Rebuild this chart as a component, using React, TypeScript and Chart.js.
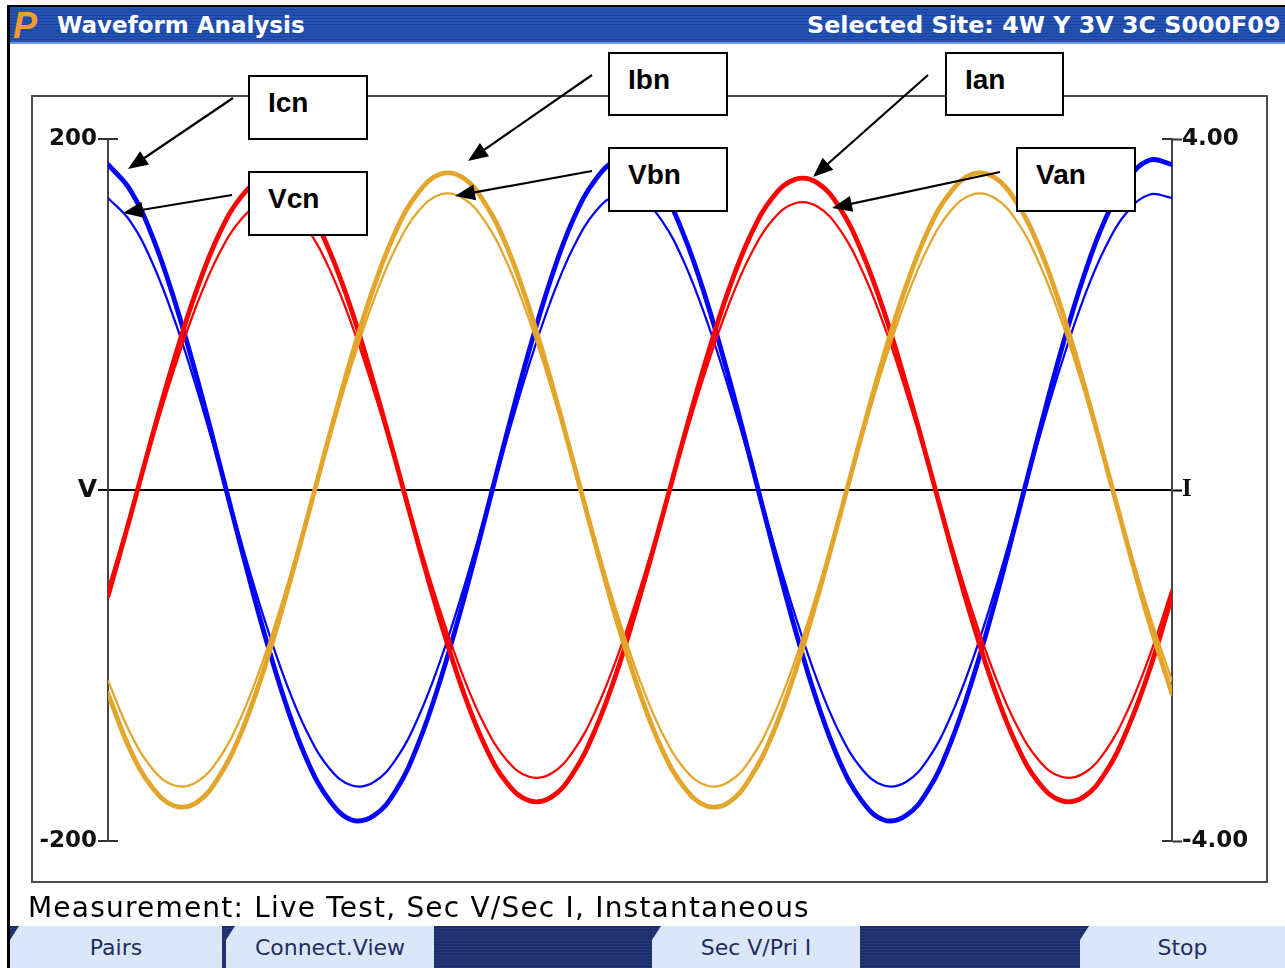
import React, { useEffect, useRef } from "react";
import { Chart, registerables } from "chart.js";

Chart.register(...registerables);

// ---- data (phase angle in degrees across two cycles) ----
const angleDeg = [
  0, 15, 30, 45, 60, 75, 90, 105, 120, 135, 150, 165, 180, 195, 210, 225, 240, 255, 270, 285, 300, 315, 330, 345,
  360, 375, 390, 405, 420, 435, 450, 465, 480, 495, 510, 525, 540, 555, 570, 585, 600, 615, 630, 645, 660, 675, 690, 705,
  720,
];

// Phase A (red)
const vanVolts = [
  -56.1, -14.3, 28.5, 69.3, 105.4, 134.3, 154.1, 163.4, 161.5, 148.6, 125.6, 94.1, 56.1, 14.3, -28.5, -69.3, -105.4, -134.3, -154.1, -163.4, -161.5, -148.6, -125.6, -94.1,
  -56.1, -14.3, 28.5, 69.3, 105.4, 134.3, 154.1, 163.4, 161.5, 148.6, 125.6, 94.1, 56.1, 14.3, -28.5, -69.3, -105.4, -134.3, -154.1, -163.4, -161.5, -148.6, -125.6, -94.1,
  -56.1,
];
const ianAmps = [
  -1.21, -0.31, 0.62, 1.5, 2.28, 2.91, 3.34, 3.54, 3.5, 3.22, 2.72, 2.04, 1.21, 0.31, -0.62, -1.5, -2.28, -2.91, -3.34, -3.54, -3.5, -3.22, -2.72, -2.04,
  -1.21, -0.31, 0.62, 1.5, 2.28, 2.91, 3.34, 3.54, 3.5, 3.22, 2.72, 2.04, 1.21, 0.31, -0.62, -1.5, -2.28, -2.91, -3.34, -3.54, -3.5, -3.22, -2.72, -2.04,
  -1.21,
];

// Phase B (gold)
const vbnVolts = [
  -108.6, -138.4, -158.8, -168.4, -166.4, -153.2, -129.5, -96.9, -57.8, -14.7, 29.3, 71.4, 108.6, 138.4, 158.8, 168.4, 166.4, 153.2, 129.5, 96.9, 57.8, 14.7, -29.3, -71.4,
  -108.6, -138.4, -158.8, -168.4, -166.4, -153.2, -129.5, -96.9, -57.8, -14.7, 29.3, 71.4, 108.6, 138.4, 158.8, 168.4, 166.4, 153.2, 129.5, 96.9, 57.8, 14.7, -29.3, -71.4,
  -108.6,
];
const ibnAmps = [
  -2.32, -2.96, -3.39, -3.6, -3.56, -3.27, -2.77, -2.07, -1.23, -0.31, 0.63, 1.53, 2.32, 2.96, 3.39, 3.6, 3.56, 3.27, 2.77, 2.07, 1.23, 0.31, -0.63, -1.53,
  -2.32, -2.96, -3.39, -3.6, -3.56, -3.27, -2.77, -2.07, -1.23, -0.31, 0.63, 1.53, 2.32, 2.96, 3.39, 3.6, 3.56, 3.27, 2.77, 2.07, 1.23, 0.31, -0.63, -1.53,
  -2.32,
];

// Phase C (blue)
const vcnVolts = [
  166.4, 153.2, 129.5, 96.9, 57.8, 14.7, -29.3, -71.4, -108.6, -138.4, -158.8, -168.4, -166.4, -153.2, -129.5, -96.9, -57.8, -14.7, 29.3, 71.4, 108.6, 138.4, 158.8, 168.4,
  166.4, 153.2, 129.5, 96.9, 57.8, 14.7, -29.3, -71.4, -108.6, -138.4, -158.8, -168.4, -166.4, -153.2, -129.5, -96.9, -57.8, -14.7, 29.3, 71.4, 108.6, 138.4, 158.8, 168.4,
  166.4,
];
const icnAmps = [
  3.71, 3.42, 2.89, 2.16, 1.29, 0.33, -0.65, -1.59, -2.42, -3.09, -3.54, -3.76, -3.71, -3.42, -2.89, -2.16, -1.29, -0.33, 0.65, 1.59, 2.42, 3.09, 3.54, 3.76,
  3.71, 3.42, 2.89, 2.16, 1.29, 0.33, -0.65, -1.59, -2.42, -3.09, -3.54, -3.76, -3.71, -3.42, -2.89, -2.16, -1.29, -0.33, 0.65, 1.59, 2.42, 3.09, 3.54, 3.76,
  3.71,
];

// axis ticks
const voltTickValues = [-200, 0, 200];
const voltTickLabels = ["-200", "V", "200"];
const ampTickValues = [-4, 0, 4];
const ampTickLabels = ["-4.00", "I", "4.00"];

// texts
const titleText = "Waveform Analysis";
const siteText = "Selected Site: 4W Y 3V 3C S000F09";
const measurementText = "Measurement: Live Test, Sec V/Sec I, Instantaneous";
const buttonLabels = ["Pairs", "Connect.View", "Sec V/Pri I", "Stop"];

// callouts
const calloutNames = ["Icn", "Vcn", "Ibn", "Vbn", "Ian", "Van"];

// colours
const RED = "#ff0000";
const GOLD = "#e3a52a";
const BLUE = "#0000ff";

// ---- layout constants ----
const FRAME = { left: 31, top: 95, width: 1237, height: 788 };
const AREA = { left: 108, right: 1172, top: 139, bottom: 841 };

const calloutBoxes = [
  { x: 248, y: 75, w: 120, h: 65 },
  { x: 248, y: 171, w: 120, h: 65 },
  { x: 608, y: 52, w: 120, h: 64 },
  { x: 608, y: 147, w: 120, h: 65 },
  { x: 945, y: 52, w: 119, h: 64 },
  { x: 1016, y: 147, w: 120, h: 65 },
];
const calloutArrows = [
  { x1: 233, y1: 98, x2: 128, y2: 169 },
  { x1: 232, y1: 195, x2: 123, y2: 213 },
  { x1: 592, y1: 75, x2: 468, y2: 161 },
  { x1: 592, y1: 171, x2: 455, y2: 196 },
  { x1: 928, y1: 75, x2: 813, y2: 177 },
  { x1: 1000, y1: 172, x2: 832, y2: 208 },
];
const buttonSpans = [
  [10, 222],
  [226, 434],
  [652, 860],
  [1080, 1285],
];

const tickFont = { family: "'DejaVu Sans', sans-serif", size: 23, weight: "bold" as const };

const innerStubs = {
  id: "innerStubs",
  afterDatasetsDraw(chart: any) {
    const ctx = chart.ctx;
    const yV = chart.scales.yV;
    const yI = chart.scales.yI;
    const a = chart.chartArea;
    ctx.save();
    ctx.strokeStyle = "#333";
    ctx.lineWidth = 2;
    ctx.beginPath();
    [-200, 200].forEach((v) => {
      const y = Math.round(yV.getPixelForValue(v));
      ctx.moveTo(a.left, y);
      ctx.lineTo(a.left + 10, y);
    });
    [-4, 4].forEach((v) => {
      const y = Math.round(yI.getPixelForValue(v));
      ctx.moveTo(a.right - 10, y);
      ctx.lineTo(a.right, y);
    });
    ctx.stroke();
    ctx.restore();
  },
};

function toPoints(values: number[]) {
  return angleDeg.map((x, i) => ({ x, y: values[i] }));
}

function WaveChart() {
  const ref = useRef<HTMLCanvasElement | null>(null);
  useEffect(() => {
    if (!ref.current) return;
    const chart = new Chart(ref.current, {
      type: "line",
      data: {
        datasets: [
          { label: "Vbn", data: toPoints(vbnVolts), yAxisID: "yV", borderColor: GOLD, borderWidth: 2.2 },
          { label: "Ibn", data: toPoints(ibnAmps), yAxisID: "yI", borderColor: GOLD, borderWidth: 4.8 },
          { label: "Van", data: toPoints(vanVolts), yAxisID: "yV", borderColor: RED, borderWidth: 2.2 },
          { label: "Ian", data: toPoints(ianAmps), yAxisID: "yI", borderColor: RED, borderWidth: 4.8 },
          { label: "Vcn", data: toPoints(vcnVolts), yAxisID: "yV", borderColor: BLUE, borderWidth: 2.2 },
          { label: "Icn", data: toPoints(icnAmps), yAxisID: "yI", borderColor: BLUE, borderWidth: 4.8 },
        ],
      },
      options: {
        responsive: false,
        animation: false,
        events: [],
        layout: {
          padding: {
            top: AREA.top - FRAME.top,
            bottom: FRAME.top + FRAME.height - AREA.bottom,
            left: 0,
            right: 0,
          },
        },
        elements: {
          point: { radius: 0 },
          line: { tension: 0.4, fill: false, borderCapStyle: "round", borderJoinStyle: "round" },
        },
        plugins: { legend: { display: false }, tooltip: { enabled: false }, title: { display: false } },
        scales: {
          x: { type: "linear", min: 0, max: 720, display: false },
          yV: {
            type: "linear",
            position: "left",
            min: -200,
            max: 200,
            afterBuildTicks: (s: any) => {
              s.ticks = voltTickValues.map((v) => ({ value: v }));
            },
            afterFit: (s: any) => {
              s.width = AREA.left - FRAME.left;
            },
            ticks: {
              color: "#111",
              padding: 1,
              callback: (v: any) => voltTickLabels[voltTickValues.indexOf(Number(v))],
              font: (c: any) =>
                c.tick && c.tick.value === 0
                  ? { family: "'DejaVu Sans', sans-serif", size: 25, weight: "bold" }
                  : tickFont,
            },
            grid: {
              drawOnChartArea: true,
              color: (c: any) => (c.tick && c.tick.value === 0 ? "#000" : "rgba(0,0,0,0)"),
              lineWidth: 2,
              tickColor: (c: any) => (c.tick && c.tick.value === 0 ? "#000" : "#333"),
              tickLength: 10,
              tickWidth: 2,
            },
            border: { display: true, color: "#444", width: 2 },
          },
          yI: {
            type: "linear",
            position: "right",
            min: -4,
            max: 4,
            afterBuildTicks: (s: any) => {
              s.ticks = ampTickValues.map((v) => ({ value: v }));
            },
            afterFit: (s: any) => {
              s.width = FRAME.left + FRAME.width - AREA.right;
            },
            ticks: {
              color: "#111",
              padding: 0,
              callback: (v: any) => ampTickLabels[ampTickValues.indexOf(Number(v))],
              font: (c: any) =>
                c.tick && c.tick.value === 0
                  ? { family: "'Liberation Serif', serif", size: 25, weight: "bold" }
                  : tickFont,
            },
            grid: {
              drawOnChartArea: false,
              tickColor: (c: any) => (c.tick && c.tick.value === 0 ? "#000" : "#333"),
              tickLength: 10,
              tickWidth: 2,
            },
            border: { display: true, color: "#444", width: 2 },
          },
        },
      },
      plugins: [innerStubs],
    } as any);
    return () => chart.destroy();
  }, []);
  return (
    <canvas
      ref={ref}
      width={FRAME.width}
      height={FRAME.height}
      style={{ position: "absolute", left: FRAME.left, top: FRAME.top, width: FRAME.width, height: FRAME.height, display: "block" }}
    />
  );
}

function Arrow({ x1, y1, x2, y2 }: { x1: number; y1: number; x2: number; y2: number }) {
  const dx = x2 - x1;
  const dy = y2 - y1;
  const len = Math.hypot(dx, dy);
  const ux = dx / len;
  const uy = dy / len;
  const hl = 20;
  const hw = 8;
  const bx = x2 - ux * hl;
  const by = y2 - uy * hl;
  const pts = `${x2},${y2} ${bx - uy * hw},${by + ux * hw} ${bx + uy * hw},${by - ux * hw}`;
  return (
    <g>
      <line x1={x1} y1={y1} x2={bx + ux * 3} y2={by + uy * 3} stroke="#000" strokeWidth={2.2} />
      <polygon points={pts} fill="#000" />
    </g>
  );
}

const stripeBlue = "repeating-linear-gradient(to bottom, #2453b3 0px, #2453b3 2px, #1a449f 2px, #1a449f 3px)";
const stripeNavy = "repeating-linear-gradient(to bottom, #1c2f6c 0px, #1c2f6c 2px, #26397a 2px, #26397a 3px)";

export default function App() {
  return (
    <div
      style={{
        position: "absolute",
        left: 0,
        top: 0,
        width: 1285,
        height: 968,
        background: "#fff",
        overflow: "hidden",
        fontFamily: "'DejaVu Sans', sans-serif",
      }}
    >
      {/* outer black edges */}
      <div style={{ position: "absolute", left: 7, top: 5, width: 1278, height: 2, background: "#000" }} />
      <div style={{ position: "absolute", left: 7, top: 5, width: 3, height: 963, background: "#000" }} />

      {/* title bar */}
      <div style={{ position: "absolute", left: 10, top: 7, width: 1275, height: 37, background: stripeBlue }}>
        <div style={{ position: "absolute", left: 0, bottom: 0, width: "100%", height: 2, background: "#6e98dc" }} />
        <div
          style={{
            position: "absolute",
            left: 3,
            top: 0,
            height: 37,
            lineHeight: "37px",
            fontFamily: "'Liberation Sans', sans-serif",
            fontWeight: "bold",
            fontStyle: "italic",
            fontSize: 36,
            color: "#f59a2c",
          }}
        >
          P
        </div>
        <div
          style={{
            position: "absolute",
            left: 47,
            top: 0,
            height: 37,
            lineHeight: "37px",
            fontWeight: "bold",
            fontSize: 23,
            color: "#fff",
            whiteSpace: "nowrap",
          }}
        >
          {titleText}
        </div>
        <div
          style={{
            position: "absolute",
            left: 797,
            top: 0,
            height: 37,
            lineHeight: "37px",
            fontWeight: "bold",
            fontSize: 23.8,
            color: "#fff",
            whiteSpace: "nowrap",
          }}
        >
          {siteText}
        </div>
      </div>

      {/* plot */}
      <WaveChart />
      <div
        style={{
          position: "absolute",
          left: FRAME.left,
          top: FRAME.top,
          width: FRAME.width,
          height: FRAME.height,
          border: "2px solid #4a4a4a",
          boxSizing: "border-box",
          pointerEvents: "none",
        }}
      />

      {/* callouts */}
      {calloutBoxes.map((b, i) => (
        <div
          key={calloutNames[i]}
          style={{
            position: "absolute",
            left: b.x,
            top: b.y,
            width: b.w,
            height: b.h,
            border: "2px solid #000",
            boxSizing: "border-box",
            background: "#fff",
            paddingLeft: 18,
            paddingTop: 10,
            fontFamily: "'Liberation Sans', Arial, sans-serif",
            fontWeight: "bold",
            fontSize: 28,
            lineHeight: "32px",
            color: "#000",
          }}
        >
          {calloutNames[i]}
        </div>
      ))}
      <svg
        width={1285}
        height={968}
        style={{ position: "absolute", left: 0, top: 0, pointerEvents: "none" }}
      >
        {calloutArrows.map((a, i) => (
          <Arrow key={i} {...a} />
        ))}
      </svg>

      {/* measurement line */}
      <div
        style={{
          position: "absolute",
          left: 28,
          top: 889,
          height: 38,
          lineHeight: "38px",
          fontSize: 28,
          letterSpacing: 1.2,
          color: "#000",
          whiteSpace: "nowrap",
        }}
      >
        {measurementText}
      </div>

      {/* bottom button bar */}
      <div style={{ position: "absolute", left: 10, top: 926, width: 1275, height: 42, background: stripeNavy }} />
      {buttonSpans.map(([x0, x1], i) => (
        <div
          key={buttonLabels[i]}
          style={{
            position: "absolute",
            left: x0,
            top: 926,
            width: x1 - x0,
            height: 42,
            background: "#dbe7f9",
            clipPath: "polygon(9px 0, 100% 0, 100% 100%, 0 100%, 0 14px)",
            color: "#1e2d60",
            fontSize: 22,
            lineHeight: "44px",
            textAlign: "center",
            whiteSpace: "nowrap",
          }}
        >
          {buttonLabels[i]}
        </div>
      ))}
    </div>
  );
}
